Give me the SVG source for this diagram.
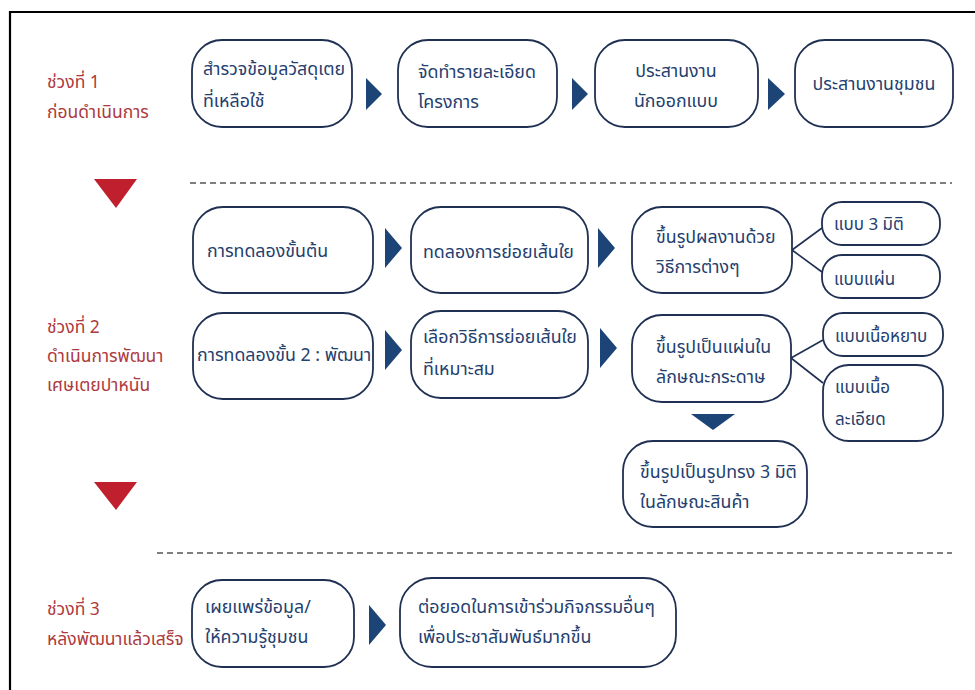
<svg xmlns="http://www.w3.org/2000/svg" width="975" height="690" viewBox="0 0 975 690">
<style>
  text { font-family: "Noto Sans Thai", "Tahoma", "Leelawadee UI", "Noto Sans", sans-serif; font-size: 17.8px; }
  .box { fill: #ffffff; stroke: #1f3052; stroke-width: 1.8; }
  .t { fill: #24406e; }
  .s { font-size: 17px; }
  .lbl { fill: #ad3a3e; font-size: 17.5px; }
  .arr { fill: #1d4477; }
  .red { fill: #c0202e; }
  .dash { stroke: #555555; stroke-width: 1.4; stroke-dasharray: 6 4; fill: none; }
  .ln { stroke: #1f3052; stroke-width: 1.6; fill: none; }
  .c { text-anchor: middle; }
</style>
<rect x="0" y="0" width="975" height="690" fill="#ffffff"/>
<path d="M10 690 V12 H975" fill="none" stroke="#000000" stroke-width="2.2"/>

<g id="labels">
  <text class="lbl" x="47" y="88">ช่วงที่ 1</text>
  <text class="lbl" x="47" y="118">ก่อนดำเนินการ</text>
  <text class="lbl" x="47" y="333">ช่วงที่ 2</text>
  <text class="lbl" x="47" y="362">ดำเนินการพัฒนา</text>
  <text class="lbl" x="47" y="391">เศษเตยปาหนัน</text>
  <text class="lbl" x="47" y="615">ช่วงที่ 3</text>
  <text class="lbl" x="47" y="645">หลังพัฒนาแล้วเสร็จ</text>
</g>

<g id="connectors">
  <polygon class="red" points="94,179 137,179 116,208"/>
  <polygon class="red" points="94,482 137,482 116,510"/>
  <line class="dash" x1="190" y1="183" x2="952" y2="183"/>
  <line class="dash" x1="157" y1="553" x2="952" y2="553"/>
  <polygon class="arr" points="366,78 382,94 366,110"/>
  <polygon class="arr" points="572,78 588,94 572,110"/>
  <polygon class="arr" points="768,78 785,94 768,110"/>
  <polygon class="arr" points="385,228 402,248 385,268"/>
  <polygon class="arr" points="598,228 615,248 598,268"/>
  <polygon class="arr" points="385,330 402,350 385,370"/>
  <polygon class="arr" points="600,328 617,348 600,368"/>
  <polygon class="arr" points="691,414 735,414 713,430"/>
  <polygon class="arr" points="369,605 386,625 369,645"/>
  <line class="ln" x1="792" y1="250" x2="822" y2="228"/>
  <line class="ln" x1="792" y1="250" x2="822" y2="272"/>
  <line class="ln" x1="791" y1="358" x2="823" y2="340"/>
  <line class="ln" x1="791" y1="358" x2="823" y2="383"/>
</g>

<g id="n1">
  <rect class="box" x="192" y="40" width="160" height="87" rx="30"/>
  <text class="t" x="203" y="75">สำรวจข้อมูลวัสดุเตย</text>
  <text class="t" x="203" y="107">ที่เหลือใช้</text>
</g>
<g id="n2">
  <rect class="box" x="398" y="40" width="159" height="87" rx="30"/>
  <text class="t" x="418" y="78">จัดทำรายละเอียด</text>
  <text class="t" x="418" y="108">โครงการ</text>
</g>
<g id="n3">
  <rect class="box" x="595" y="40" width="163" height="87" rx="30"/>
  <text class="t c" x="676" y="77">ประสานงาน</text>
  <text class="t c" x="676" y="107">นักออกแบบ</text>
</g>
<g id="n4">
  <rect class="box" x="795" y="40" width="158" height="87" rx="30"/>
  <text class="t c" x="874" y="90">ประสานงานชุมชน</text>
</g>

<g id="n5">
  <rect class="box" x="193" y="207" width="180" height="86" rx="30"/>
  <text class="t" x="207" y="257">การทดลองขั้นต้น</text>
</g>
<g id="n6">
  <rect class="box" x="411" y="207" width="177" height="86" rx="30"/>
  <text class="t" x="423" y="258">ทดลองการย่อยเส้นใย</text>
</g>
<g id="n7">
  <rect class="box" x="632" y="207" width="160" height="86" rx="30"/>
  <text class="t" x="656" y="243">ขึ้นรูปผลงานด้วย</text>
  <text class="t" x="656" y="273">วิธีการต่างๆ</text>
</g>
<g id="n8">
  <rect class="box" x="822" y="202" width="118" height="43" rx="20"/>
  <text class="t s" x="834" y="230">แบบ 3 มิติ</text>
</g>
<g id="n9">
  <rect class="box" x="822" y="255" width="118" height="43" rx="20"/>
  <text class="t s" x="834" y="285">แบบแผ่น</text>
</g>

<g id="n10">
  <rect class="box" x="193" y="313" width="180" height="86" rx="30"/>
  <text class="t" x="197" y="361">การทดลองขั้น 2 : พัฒนา</text>
</g>
<g id="n11">
  <rect class="box" x="411" y="311" width="177" height="87" rx="30"/>
  <text class="t" x="423" y="343">เลือกวิธีการย่อยเส้นใย</text>
  <text class="t" x="423" y="375">ที่เหมาะสม</text>
</g>
<g id="n12">
  <rect class="box" x="632" y="315" width="159" height="87" rx="30"/>
  <text class="t" x="656" y="353">ขึ้นรูปเป็นแผ่นใน</text>
  <text class="t" x="656" y="383">ลักษณะกระดาษ</text>
</g>
<g id="n13">
  <rect class="box" x="823" y="313" width="120" height="43" rx="20"/>
  <text class="t s" x="835" y="342">แบบเนื้อหยาบ</text>
</g>
<g id="n14">
  <rect class="box" x="823" y="365" width="120" height="76" rx="26"/>
  <text class="t s" x="835" y="393">แบบเนื้อ</text>
  <text class="t s" x="835" y="425">ละเอียด</text>
</g>
<g id="n15">
  <rect class="box" x="623" y="441" width="184" height="86" rx="30"/>
  <text class="t" x="640" y="478">ขึ้นรูปเป็นรูปทรง 3 มิติ</text>
  <text class="t" x="640" y="508">ในลักษณะสินค้า</text>
</g>

<g id="n16">
  <rect class="box" x="192" y="580" width="162" height="87" rx="30"/>
  <text class="t" x="205" y="613">เผยแพร่ข้อมูล/</text>
  <text class="t" x="205" y="643">ให้ความรู้ชุมชน</text>
</g>
<g id="n17">
  <rect class="box" x="400" y="578" width="276" height="89" rx="32"/>
  <text class="t" x="418" y="613">ต่อยอดในการเข้าร่วมกิจกรรมอื่นๆ</text>
  <text class="t" x="418" y="643">เพื่อประชาสัมพันธ์มากขึ้น</text>
</g>
</svg>
